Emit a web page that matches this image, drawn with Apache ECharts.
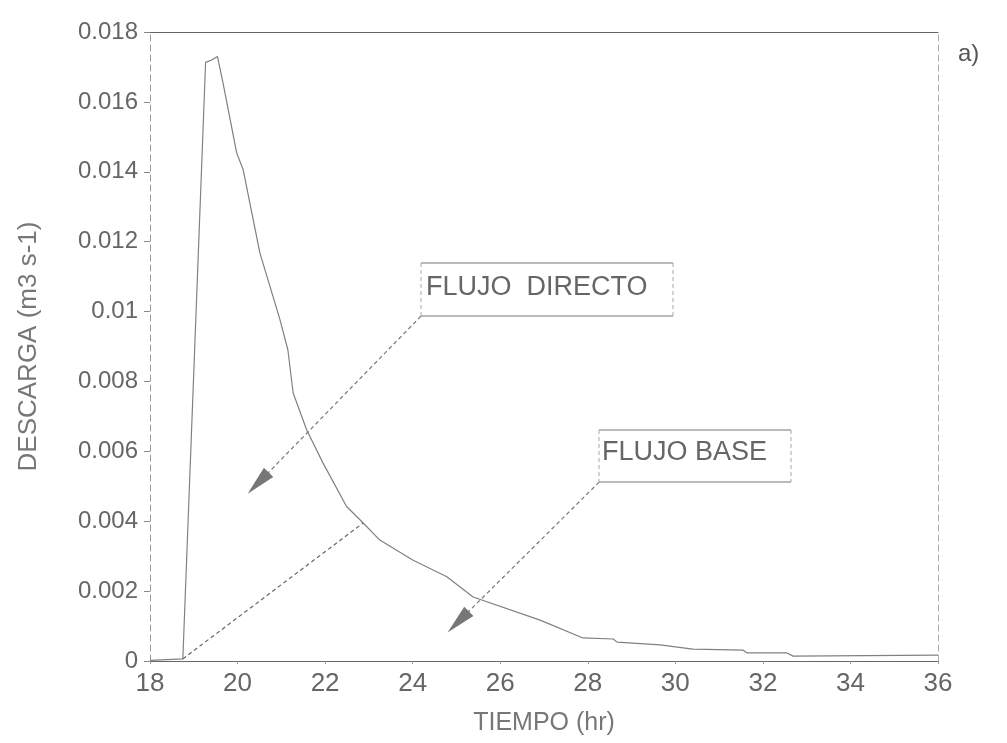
<!DOCTYPE html>
<html>
<head>
<meta charset="utf-8">
<script src="https://cdn.jsdelivr.net/npm/echarts@6/dist/echarts.min.js"></script>
<style>html,body{margin:0;padding:0;background:#fff}#c{width:1007px;height:743px}</style>
</head>
<body>
<div id="c"></div>
<script>
// Total discharge hydrograph (hours, m3 s-1)
const totalHours = [18.0, 18.75, 19.27, 19.41, 19.54, 19.67, 19.98, 20.13, 20.51, 20.97, 21.15, 21.27, 21.58, 21.95, 22.49, 22.87, 23.25, 24.0, 24.78, 25.38, 26.91, 27.89, 28.58, 28.67, 29.65, 30.40, 31.55, 31.64, 32.55, 32.69, 36.0];
const totalFlow  = [0.00002, 0.00006, 0.01713, 0.0172, 0.0173, 0.01653, 0.01454, 0.01405, 0.01168, 0.00976, 0.0089, 0.00767, 0.00661, 0.00567, 0.00442, 0.00395, 0.00346, 0.00289, 0.00241, 0.00183, 0.00117, 0.00066, 0.00063, 0.00054, 0.00046, 0.00034, 0.00031, 0.00023, 0.00023, 0.00014, 0.00017];
// Base flow separation line
const baseHours = [18.75, 22.87];
const baseFlow  = [0.00006, 0.00395];
// Axis ticks
const xTicks = [18, 20, 22, 24, 26, 28, 30, 32, 34, 36];
const yTicks = [0, 0.002, 0.004, 0.006, 0.008, 0.01, 0.012, 0.014, 0.016, 0.018];
// Annotation arrows: [fromHour, fromFlow, toHour, toFlow]
const arrowDirecto = [24.19, 0.00987, 20.47, 0.00509];
const arrowBase    = [28.26, 0.00512, 25.04, 0.00112];
const labelDirecto = 'FLUJO  DIRECTO';
const labelBase = 'FLUJO BASE';

const FONT = 'Liberation Sans, Arial, sans-serif';
const TXT = '#666';
const chart = echarts.init(document.getElementById('c'));
const lineCol = '#808080';

function boxLines(x, y, w, h) {
  return [
    {type:'line', shape:{x1:x, y1:y, x2:x+w, y2:y}, style:{stroke:'#777', lineWidth:1.2}},
    {type:'line', shape:{x1:x, y1:y+h, x2:x+w, y2:y+h}, style:{stroke:'#777', lineWidth:1.2}},
    {type:'line', shape:{x1:x, y1:y, x2:x, y2:y+h}, style:{stroke:'#aaa', lineWidth:1, lineDash:[4,3]}},
    {type:'line', shape:{x1:x+w, y1:y, x2:x+w, y2:y+h}, style:{stroke:'#aaa', lineWidth:1, lineDash:[4,3]}}
  ];
}

chart.setOption({
  animation: false,
  backgroundColor: '#fff',
  grid: {left: 150, top: 32, right: 69, bottom: 82},
  xAxis: [{
    type: 'value', min: 18, max: 36, interval: 2,
    name: 'TIEMPO (hr)', nameLocation: 'middle', nameGap: 50,
    nameTextStyle: {fontFamily: FONT, fontSize: 25, color: '#777'},
    axisLine: {show: true, onZero: false, lineStyle: {color: '#666', width: 1.2}},
    axisTick: {show: true, length: 3, lineStyle: {color: '#999'}},
    axisLabel: {fontFamily: FONT, fontSize: 26, color: TXT, margin: 10,
      formatter: v => xTicks.includes(v) ? String(v) : ''},
    splitLine: {show: false}
  }, {
    type: 'value', position: 'top', min: 18, max: 36,
    axisLine: {show: true, onZero: false, lineStyle: {color: '#666', width: 1.2}},
    axisTick: {show: false}, axisLabel: {show: false}, splitLine: {show: false}
  }],
  yAxis: [{
    type: 'value', min: 0, max: 0.018, interval: 0.002,
    name: 'DESCARGA (m3 s-1)', nameLocation: 'middle', nameGap: 108,
    nameTextStyle: {fontFamily: FONT, fontSize: 26, color: '#777'},
    axisLine: {show: true, onZero: false, lineStyle: {color: '#999', type: [6, 4], width: 1}},
    axisTick: {show: true, length: 6, lineStyle: {color: '#888'}},
    axisLabel: {fontFamily: FONT, fontSize: 24, color: TXT, margin: 12,
      formatter: v => String(+v.toFixed(3))},
    splitLine: {show: false}
  }, {
    type: 'value', position: 'right', min: 0, max: 0.018,
    axisLine: {show: true, onZero: false, lineStyle: {color: '#aaa', type: [6, 4], width: 1}},
    axisTick: {show: false}, axisLabel: {show: false}, splitLine: {show: false}
  }],
  series: [{
    type: 'line', name: 'Total', symbol: 'none',
    data: totalHours.map((h, i) => [h, totalFlow[i]]),
    lineStyle: {color: lineCol, width: 1.2}
  }, {
    type: 'line', name: 'Base', symbol: 'none',
    data: baseHours.map((h, i) => [h, baseFlow[i]]),
    lineStyle: {color: '#666', width: 1.2, type: [4, 3]},
    markLine: {
      silent: true, animation: false,
      symbol: ['none', 'triangle'], symbolSize: [13, 30],
      label: {show: false},
      lineStyle: {color: '#777', width: 1.2, type: [4, 3]},
      data: [
        [{coord: [arrowDirecto[0], arrowDirecto[1]]}, {coord: [arrowDirecto[2], arrowDirecto[3]], symbol: 'triangle', itemStyle: {color: '#888'}}],
        [{coord: [arrowBase[0], arrowBase[1]]}, {coord: [arrowBase[2], arrowBase[3]], symbol: 'triangle', itemStyle: {color: '#888'}}]
      ]
    }
  }],
  graphic: [
    ...boxLines(421, 263, 252, 53),
    {type:'text', left: 426, top: 274, style:{text: labelDirecto, font: '27px ' + FONT, fill: TXT}},
    ...boxLines(599, 430, 192, 52),
    {type:'text', left: 602, top: 439, style:{text: labelBase, font: '27px ' + FONT, fill: TXT}},
    {type:'text', left: 958, top: 42, style:{text: 'a)', font: '24px ' + FONT, fill: '#555'}}
  ]
});
</script>
</body>
</html>
